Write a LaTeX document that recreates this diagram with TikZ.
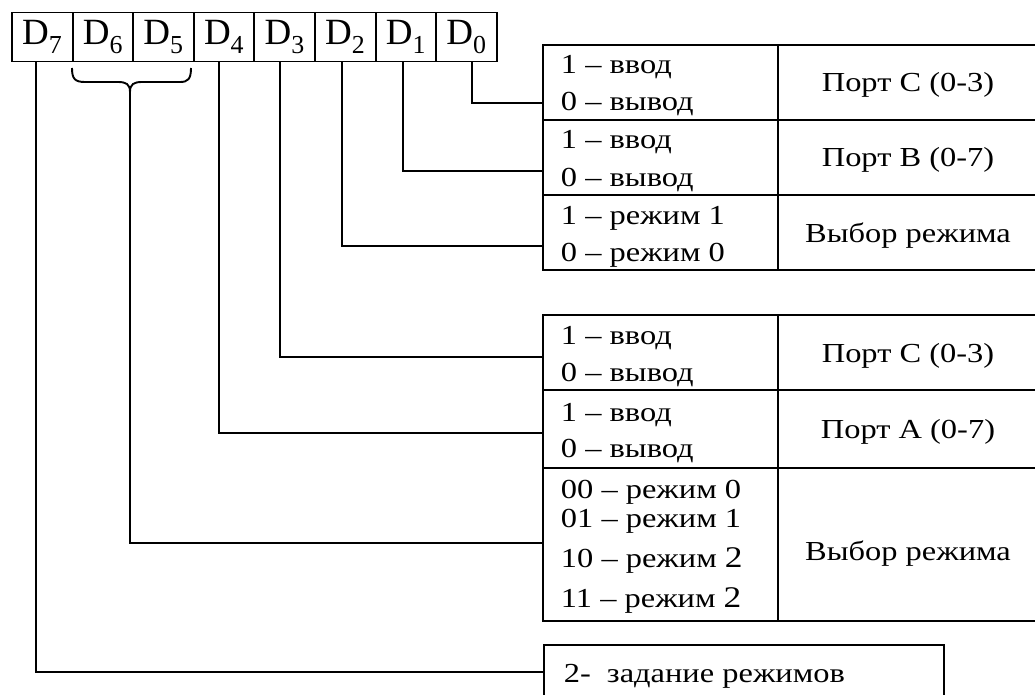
\documentclass[tikz,border=0pt]{standalone}
\usepackage{fontspec}
\setmainfont{Liberation Serif}[FakeStretch=1.18]
\newfontfamily\regfont{Liberation Serif}
\begin{document}
\begin{tikzpicture}[x=1pt,y=-1pt,
  line width=1.9pt,
  reg/.style={draw, minimum width=60.6pt, minimum height=49pt, inner sep=0pt, font=\regfont\fontsize{37}{39}\selectfont},
  cell/.style={draw, inner sep=0pt, anchor=north west},
  txt/.style={anchor=base west, inner sep=0pt, font=\fontsize{27.5}{30}\selectfont},
  ctxt/.style={anchor=base, inner sep=0pt, font=\fontsize{27.5}{30}\selectfont},
  wire/.style={line width=1.9pt}
]
\useasboundingbox (0,0) rectangle (1035,695);
\clip (0,0) rectangle (1035,695);
% register
\node[reg] (d7) at (42.3,37) {D\textsubscript{7}};
\node[reg] (d6) at (102.9,37) {D\textsubscript{6}};
\node[reg] (d5) at (163.5,37) {D\textsubscript{5}};
\node[reg] (d4) at (224.1,37) {D\textsubscript{4}};
\node[reg] (d3) at (284.7,37) {D\textsubscript{3}};
\node[reg] (d2) at (345.3,37) {D\textsubscript{2}};
\node[reg] (d1) at (405.9,37) {D\textsubscript{1}};
\node[reg] (d0) at (466.5,37) {D\textsubscript{0}};
% table 1
\node[cell, minimum width=235pt, minimum height=75pt] (a1) at (542,44) {};
\node[cell, minimum width=270pt, minimum height=75pt] (b1) at (777,44) {};
\node[cell, minimum width=235pt, minimum height=75pt] (a2) at (542,119) {};
\node[cell, minimum width=270pt, minimum height=75pt] (b2) at (777,119) {};
\node[cell, minimum width=235pt, minimum height=75pt] (a3) at (542,194) {};
\node[cell, minimum width=270pt, minimum height=75pt] (b3) at (777,194) {};
% table 2
\node[cell, minimum width=235pt, minimum height=75pt] (a4) at (542,314) {};
\node[cell, minimum width=270pt, minimum height=75pt] (b4) at (777,314) {};
\node[cell, minimum width=235pt, minimum height=78pt] (a5) at (542,389) {};
\node[cell, minimum width=270pt, minimum height=78pt] (b5) at (777,389) {};
\node[cell, minimum width=235pt, minimum height=153pt] (a6) at (542,467) {};
\node[cell, minimum width=270pt, minimum height=153pt] (b6) at (777,467) {};
% bottom box
\node[cell, minimum width=400pt, minimum height=80pt] (a7) at (543,644) {};
% texts table 1
\node[txt] (t11) at (560,74) {1 – ввод};
\node[txt] (t12) at (560,111) {0 – вывод};
\node[txt] (t21) at (560,149) {1 – ввод};
\node[txt] (t22) at (560,186) {0 – вывод};
\node[txt] (t31) at (560,224) {1 – режим 1};
\node[txt] (t32) at (560,261) {0 – режим 0};
\node[ctxt] (p1) at (908,92) {Порт C (0-3)};
\node[ctxt] (p2) at (908,167) {Порт B (0-7)};
\node[ctxt] (p3) at (908,242) {Выбор режима};
% texts table 2
\node[txt] (t41) at (560,344) {1 – ввод};
\node[txt] (t42) at (560,381) {0 – вывод};
\node[txt] (t51) at (560,421) {1 – ввод};
\node[txt] (t52) at (560,457) {0 -- вывод};
\node[txt] (t61) at (560,498) {00 – режим 0};
\node[txt] (t62) at (560,527) {01 – режим 1};
\node[txt] (t63) at (560,567) {10 – режим {\fontsize{30}{30}\selectfont 2}};
\node[txt] (t64) at (560,607) {11 – режим {\fontsize{30}{30}\selectfont 2}};
\node[ctxt] (p4) at (908,362) {Порт C (0-3)};
\node[ctxt] (p5) at (908,438) {Порт A (0-7)};
\node[ctxt] (p6) at (908,560) {Выбор режима};
\node[txt] (t7) at (563,682) {2-\hspace{16pt}задание режимов};
% brace
\coordinate (bt) at (130,92);
\draw[wire] (72,68) .. controls (72,79) and (75,82) .. (85,82) -- (118,82) .. controls (126,82) and (130,84) .. (bt) .. controls (130,84) and (134,82) .. (142,82) -- (180,82) .. controls (188,82) and (191,79) .. (191,68);
% connection points
\coordinate (e0) at (542,103);
\coordinate (e1) at (542,171);
\coordinate (e2) at (542,246);
\coordinate (e3) at (542,357);
\coordinate (e4) at (542,433);
\coordinate (e56) at (542,543);
\coordinate (e7) at (543,672);
% connectors
\draw[wire] ([xshift=5.5pt]d0.south) |- (e0);
\draw[wire] ([xshift=-3pt]d1.south) |- (e1);
\draw[wire] ([xshift=-3.3pt]d2.south) |- (e2);
\draw[wire] ([xshift=-4.7pt]d3.south) |- (e3);
\draw[wire] ([xshift=-5.1pt]d4.south) |- (e4);
\draw[wire] (bt) |- (e56);
\draw[wire] ([xshift=-6.3pt]d7.south) |- (e7);
\end{tikzpicture}
\end{document}
